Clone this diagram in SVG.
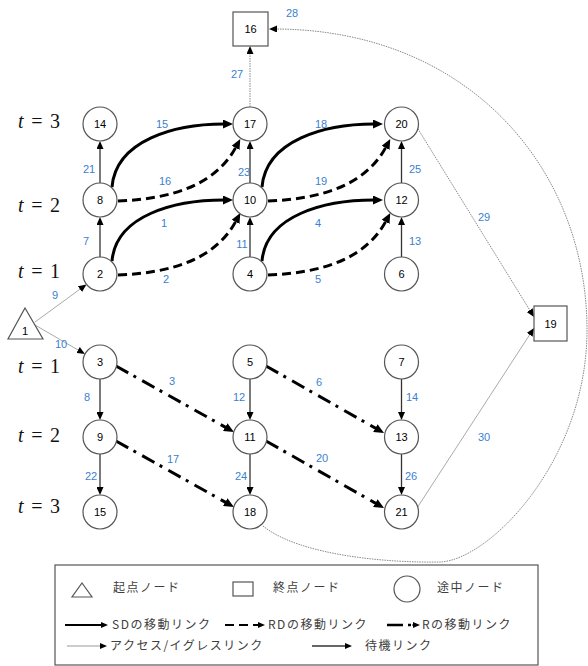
<svg xmlns="http://www.w3.org/2000/svg" width="588" height="666" viewBox="0 0 588 666">
<defs>
<marker id="a" markerUnits="userSpaceOnUse" markerWidth="8" markerHeight="7" refX="1" refY="3.5" orient="auto"><path d="M0,0 L8,3.5 L0,7 z" fill="#000"/></marker>
<marker id="b" markerUnits="userSpaceOnUse" markerWidth="10" markerHeight="9" refX="1" refY="4.5" orient="auto"><path d="M0,0 L10,4.5 L0,9 z" fill="#000"/></marker>
<marker id="s" markerUnits="userSpaceOnUse" markerWidth="7" markerHeight="6" refX="1" refY="3" orient="auto"><path d="M0,0 L7,3 L0,6 z" fill="#000"/></marker>
<style>
.n circle,.n rect,.n polygon{fill:#fff;stroke:#555;stroke-width:1.2}
.n text{font-family:"Liberation Sans",Arial,sans-serif;font-size:11px;fill:#000;text-anchor:middle}
.w{fill:none;stroke:#333;stroke-width:1.3;marker-end:url(#a)}
.ac{fill:none;stroke:#aaa;stroke-width:1;marker-end:url(#a)}
.acd{fill:none;stroke:#888;stroke-width:1;stroke-dasharray:1.5 1;marker-end:url(#a)}
.sd{fill:none;stroke:#000;stroke-width:3;marker-end:url(#b)}
.rd{fill:none;stroke:#000;stroke-width:3;stroke-dasharray:9 5;marker-end:url(#b)}
.r{fill:none;stroke:#000;stroke-width:3;stroke-dasharray:14 6 3 7;marker-end:url(#b)}
.lbl{font-family:"Liberation Sans",Arial,sans-serif;font-size:11px;fill:#3a7fd0;text-anchor:middle}
.t{font-family:"Liberation Serif","Times New Roman",serif;font-size:20px;fill:#111}
.lg{font-family:"Noto Sans CJK JP","Noto Sans",sans-serif;font-size:12px;fill:#404040;letter-spacing:1.5px}
.lgs{fill:#fff;stroke:#555;stroke-width:1.2}
</style>
</defs>
<rect width="588" height="666" fill="#fff"/>

<g id="time-labels">
<text class="t" x="18" y="128" textLength="42"><tspan font-style="italic">t</tspan> = 3</text>
<text class="t" x="18" y="212" textLength="42"><tspan font-style="italic">t</tspan> = 2</text>
<text class="t" x="18" y="278" textLength="42"><tspan font-style="italic">t</tspan> = 1</text>
<text class="t" x="18" y="373" textLength="42"><tspan font-style="italic">t</tspan> = 1</text>
<text class="t" x="18" y="442" textLength="42"><tspan font-style="italic">t</tspan> = 2</text>
<text class="t" x="18" y="513" textLength="42"><tspan font-style="italic">t</tspan> = 3</text>
</g>

<g id="connectors">
<path class="w" d="M100,183 L100,148"/>
<path class="w" d="M100,257 L100,224"/>
<path class="w" d="M250,183 L250,148"/>
<path class="w" d="M250,257 L250,224"/>
<path class="w" d="M401.5,183 L401.5,148"/>
<path class="w" d="M401.5,257 L401.5,224"/>
<path class="w" d="M100,379 L100,413"/>
<path class="w" d="M100,454 L100,488"/>
<path class="w" d="M250,379 L250,413"/>
<path class="w" d="M250,454 L250,488"/>
<path class="w" d="M401.5,379 L401.5,413"/>
<path class="w" d="M401.5,454 L401.5,488"/>
<path class="ac" d="M35,322 L80.8,288.6"/>
<path class="ac" d="M35,325 L78.9,350.5"/>
<path class="acd" d="M250,107 L250,53"/>
<path class="acd" d="M418,129 L530.3,311"/>
<path class="ac" d="M417,508 L530.2,333.9"/>
<path class="acd" d="M263,526 C300,556 390,563 440,562 C490,560 587,460 587,330 C587,170 470,30 276,29"/>
<path class="sd" d="M112,187 C116,140 175,124 224,124"/>
<path class="sd" d="M112,261 C116,215 175,200 224,200"/>
<path class="sd" d="M262,187 C266,140 325,124 374,124"/>
<path class="sd" d="M262,261 C266,215 325,200 374,200"/>
<path class="rd" d="M118,201 C170,199 215,186 236,147"/>
<path class="rd" d="M118,275 C170,273 215,260 236,221"/>
<path class="rd" d="M268,201 C320,199 365,186 386,147"/>
<path class="rd" d="M268,275 C320,273 365,260 386,221"/>
<path class="r" d="M116,366 L226.1,427.6"/>
<path class="r" d="M116,441 L226.1,502.6"/>
<path class="r" d="M266,366 L376.2,428.6"/>
<path class="r" d="M266,441 L376.2,503.6"/>
</g>

<g id="edge-labels">
<text class="lbl" x="292" y="17">28</text>
<text class="lbl" x="237" y="78">27</text>
<text class="lbl" x="162" y="128">15</text>
<text class="lbl" x="321" y="128">18</text>
<text class="lbl" x="89" y="173">21</text>
<text class="lbl" x="165" y="185">16</text>
<text class="lbl" x="244" y="176">23</text>
<text class="lbl" x="321" y="185">19</text>
<text class="lbl" x="415" y="173">25</text>
<text class="lbl" x="86" y="245">7</text>
<text class="lbl" x="164" y="227">1</text>
<text class="lbl" x="242" y="248">11</text>
<text class="lbl" x="318" y="227">4</text>
<text class="lbl" x="415" y="245">13</text>
<text class="lbl" x="166" y="283">2</text>
<text class="lbl" x="318" y="283">5</text>
<text class="lbl" x="484" y="221">29</text>
<text class="lbl" x="55" y="299">9</text>
<text class="lbl" x="61" y="348">10</text>
<text class="lbl" x="87" y="401">8</text>
<text class="lbl" x="172" y="385">3</text>
<text class="lbl" x="239" y="401">12</text>
<text class="lbl" x="319" y="386">6</text>
<text class="lbl" x="412" y="401">14</text>
<text class="lbl" x="173" y="463">17</text>
<text class="lbl" x="322" y="462">20</text>
<text class="lbl" x="91" y="480">22</text>
<text class="lbl" x="241" y="480">24</text>
<text class="lbl" x="411" y="480">26</text>
<text class="lbl" x="484" y="441">30</text>
</g>

<g id="node-1" class="n"><polygon points="25,308 43,339 8,339"/><text x="25" y="335">1</text></g>
<g id="node-2" class="n"><circle cx="100" cy="274" r="17"/><text x="100" y="278">2</text></g>
<g id="node-3" class="n"><circle cx="100" cy="362" r="17"/><text x="100" y="366">3</text></g>
<g id="node-4" class="n"><circle cx="250" cy="274" r="17"/><text x="250" y="278">4</text></g>
<g id="node-5" class="n"><circle cx="250" cy="362" r="17"/><text x="250" y="366">5</text></g>
<g id="node-6" class="n"><circle cx="401.5" cy="274" r="17"/><text x="401.5" y="278">6</text></g>
<g id="node-7" class="n"><circle cx="401.5" cy="362" r="17"/><text x="401.5" y="366">7</text></g>
<g id="node-8" class="n"><circle cx="100" cy="200" r="17"/><text x="100" y="204">8</text></g>
<g id="node-9" class="n"><circle cx="100" cy="437" r="17"/><text x="100" y="441">9</text></g>
<g id="node-10" class="n"><circle cx="250" cy="200" r="17"/><text x="250" y="204">10</text></g>
<g id="node-11" class="n"><circle cx="250" cy="437" r="17"/><text x="250" y="441">11</text></g>
<g id="node-12" class="n"><circle cx="401.5" cy="200" r="17"/><text x="401.5" y="204">12</text></g>
<g id="node-13" class="n"><circle cx="401.5" cy="437" r="17"/><text x="401.5" y="441">13</text></g>
<g id="node-14" class="n"><circle cx="100" cy="124" r="17"/><text x="100" y="128">14</text></g>
<g id="node-15" class="n"><circle cx="100" cy="512" r="17"/><text x="100" y="516">15</text></g>
<g id="node-16" class="n"><rect x="233" y="12" width="35" height="34"/><text x="250.5" y="33">16</text></g>
<g id="node-17" class="n"><circle cx="250" cy="124" r="17"/><text x="250" y="128">17</text></g>
<g id="node-18" class="n"><circle cx="250" cy="512" r="17"/><text x="250" y="516">18</text></g>
<g id="node-19" class="n"><rect x="534" y="306" width="33" height="35"/><text x="550.5" y="327.5">19</text></g>
<g id="node-20" class="n"><circle cx="401.5" cy="124" r="17"/><text x="401.5" y="128">20</text></g>
<g id="node-21" class="n"><circle cx="401.5" cy="512" r="17"/><text x="401.5" y="516">21</text></g>

<g id="legend">
<rect x="55" y="565" width="483" height="100" fill="#fff" stroke="#555" stroke-width="1.2"/>
<polygon class="lgs" points="82,583 92,597 72,597"/>
<text class="lg" x="113" y="592">起点ノード</text>
<rect class="lgs" x="233" y="582" width="20" height="14"/>
<text class="lg" x="273" y="592">終点ノード</text>
<circle class="lgs" cx="407" cy="589" r="13"/>
<text class="lg" x="437" y="592">途中ノード</text>

<path d="M65,625 L102,625" fill="none" stroke="#000" stroke-width="2" marker-end="url(#s)"/>
<text class="lg" x="112" y="629">SDの移動リンク</text>
<path d="M225,625 L259,625" fill="none" stroke="#000" stroke-width="2" stroke-dasharray="9 5" marker-end="url(#s)"/>
<text class="lg" x="268" y="629">RDの移動リンク</text>
<path d="M387,625 L403,625 M408,625 L411,625" fill="none" stroke="#000" stroke-width="2.5"/>
<path d="M412,625 L414,625" fill="none" stroke="#000" stroke-width="1" marker-end="url(#s)"/>
<text class="lg" x="422" y="629">Rの移動リンク</text>

<path d="M67,646 L101,646" fill="none" stroke="#999" stroke-width="1" marker-end="url(#s)"/>
<text class="lg" x="110" y="650">アクセス/イグレスリンク</text>
<path d="M312,646 L346,646" fill="none" stroke="#333" stroke-width="1.3" marker-end="url(#s)"/>
<text class="lg" x="365" y="650">待機リンク</text>
</g>
</svg>
